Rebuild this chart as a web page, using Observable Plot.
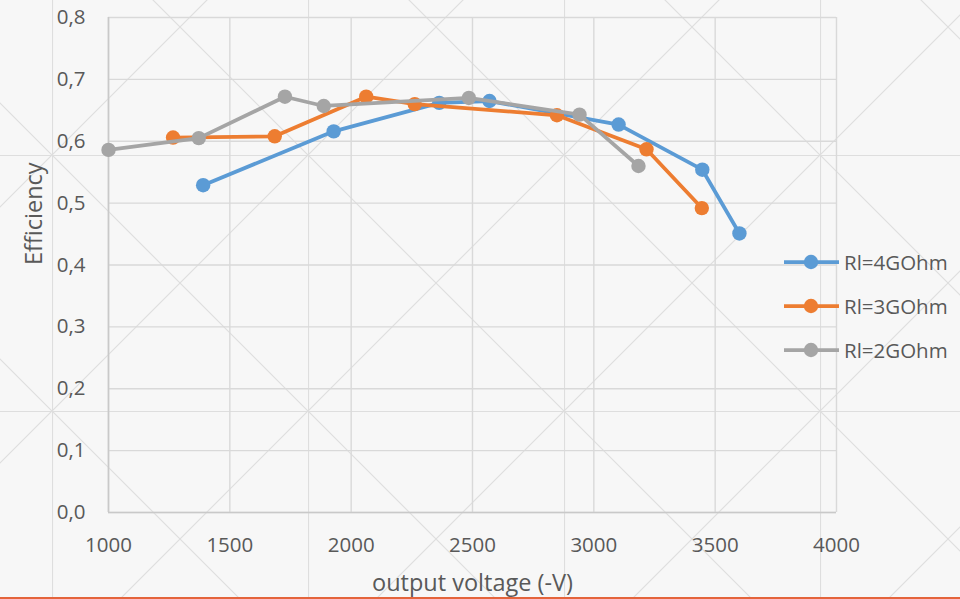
<!DOCTYPE html>
<html>
<head>
<meta charset="utf-8">
<script src="https://cdn.jsdelivr.net/npm/d3@7"></script>
<script src="https://cdn.jsdelivr.net/npm/@observablehq/plot@0.6"></script>
<style>
  html, body { margin: 0; padding: 0; width: 960px; height: 599px; overflow: hidden; }
  body {
    position: relative;
    font-family: "Open Sans", sans-serif;
    color: #595959;
    background-color: #f7f7f7;
    background-image: url("data:image/svg+xml;utf8,<svg xmlns='http://www.w3.org/2000/svg' width='256' height='256'><g stroke='%23dedede' stroke-width='1.2' fill='none'><path d='M0.5 0V256M0 0.5H256M0 0L256 256M256 0L0 256'/></g></svg>");
    background-position: 52px 155px;
  }
  #chart { position: absolute; left: 0; top: 0; }
  #legend { position: absolute; left: 784px; top: 0; }
  .item { position: absolute; left: 0; display: flex; align-items: center; white-space: nowrap; font-size: 20.5px; }
  .item svg { margin-right: 5px; }
  #footer { position: absolute; left: 0; top: 597px; width: 960px; height: 2px; background: #e4643b; }
</style>
</head>
<body>
<div id="chart"></div>
<div id="legend"></div>
<div id="footer"></div>
<script>
const series = ["Rl=4GOhm", "Rl=3GOhm", "Rl=2GOhm"];
const colors = ["#5B9BD5", "#ED7D31", "#A5A5A5"];

const volt4 = [1390, 1928, 2363, 2570, 3102, 3447, 3600];
const eff4  = [0.529, 0.616, 0.662, 0.665, 0.627, 0.554, 0.451];
const volt3 = [1266, 1685, 2062, 2262, 2848, 3217, 3445];
const eff3  = [0.606, 0.608, 0.672, 0.660, 0.642, 0.587, 0.492];
const volt2 = [1000, 1372, 1727, 1887, 2485, 2941, 3184];
const eff2  = [0.586, 0.605, 0.672, 0.657, 0.670, 0.643, 0.560];

const xTicks = [1000, 1500, 2000, 2500, 3000, 3500, 4000];
const yTicks = [0, 0.1, 0.2, 0.3, 0.4, 0.5, 0.6, 0.7, 0.8];
const xTitle = "output voltage (-V)";
const yTitle = "Efficiency";

const rows = (name, xs, ys) => xs.map((v, i) => ({series: name, volt: v, eff: ys[i]}));
const data = [
  rows(series[0], volt4, eff4),
  rows(series[1], volt3, eff3),
  rows(series[2], volt2, eff2)
];

const seriesMarks = data.flatMap(d => [
  Plot.line(d, {x: "volt", y: "eff", stroke: "series", strokeWidth: 3.75}),
  Plot.dot(d, {x: "volt", y: "eff", fill: "series", r: 7.2})
]);

const chart = Plot.plot({
  width: 960,
  height: 599,
  marginLeft: 108,
  marginRight: 124,
  marginTop: 17,
  marginBottom: 87,
  style: {background: "transparent", fontFamily: "Open Sans", fontSize: "20.5px", color: "#595959", overflow: "visible"},
  x: {domain: [1000, 4000]},
  y: {domain: [0, 0.8]},
  color: {domain: series, range: colors},
  marks: [
    Plot.gridY(yTicks, {stroke: "#d9d9d9", strokeOpacity: 1, strokeWidth: 1.4}),
    Plot.gridX(xTicks, {stroke: "#d9d9d9", strokeOpacity: 1, strokeWidth: 1.4}),
    Plot.ruleX([1000], {stroke: "#c9c9c9", strokeWidth: 1.6}),
    Plot.ruleY([0], {stroke: "#c9c9c9", strokeWidth: 1.6}),
    Plot.axisY(yTicks, {tickSize: 0, tickPadding: 23, fontSize: 20.5, label: null,
      tickFormat: d => d.toFixed(1).replace(".", ",")}),
    Plot.axisX(xTicks, {tickSize: 0, tickPadding: 25, fontSize: 20.5, label: null,
      tickFormat: d => String(d)}),
    Plot.text([xTitle], {frameAnchor: "bottom", dy: 78, fontSize: 23.5, fill: "#595959"}),
    Plot.text([yTitle], {frameAnchor: "left", dx: -74.5, rotate: -90, fontSize: 23.5, fill: "#595959"}),
    ...seriesMarks
  ]
});
document.getElementById("chart").appendChild(chart);

const legendTops = [261.5, 305.5, 350];
const legend = document.getElementById("legend");
series.forEach((s, i) => {
  const div = document.createElement("div");
  div.className = "item";
  div.style.top = (legendTops[i] - 15) + "px";
  div.innerHTML = `<svg width="55" height="30"><line x1="0" x2="55" y1="15" y2="15" stroke="${colors[i]}" stroke-width="3.75"/><circle cx="27" cy="15" r="7.2" fill="${colors[i]}"/></svg><span>${s}</span>`;
  legend.appendChild(div);
});
</script>
</body>
</html>
